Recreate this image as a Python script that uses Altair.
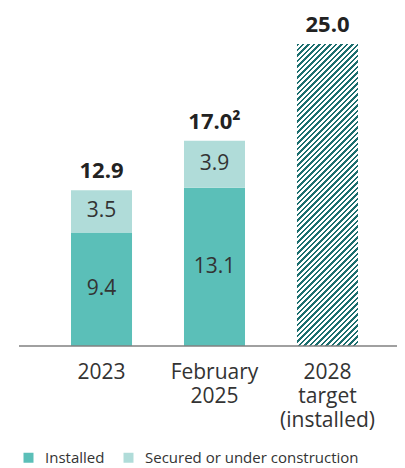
import altair as alt
import pandas as pd

# ---- data ----
categories = ["2023", "February 2025", "2028 target (installed)"]
installed = [9.4, 13.1]
secured = [3.5, 3.9]
target = [25.0]
totals = [12.9, 17.0, 25.0]
total_labels = ["12.9", "17.0\u00b2", "25.0"]
segments = ["Installed", "Secured or under construction"]
baseline_value = [0]

# ---- style ----
colors = ["#5bbfb8", "#b0dcd9"]
hatch_color = "#1b6e6e"
text_color = "#333333"
FONT = "Open Sans"
PLOT_W, PLOT_H = 378, 302

stack_rows = []
for i, (a, b) in enumerate(zip(installed, secured)):
    stack_rows.append({"cat": categories[i], "segment": segments[0], "value": a, "order": 0})
    stack_rows.append({"cat": categories[i], "segment": segments[1], "value": b, "order": 1})
stack_df = pd.DataFrame(stack_rows)
target_df = pd.DataFrame({"cat": categories[2:], "value": target})
total_df = pd.DataFrame({"cat": categories, "value": totals, "label": total_labels})
base_df = pd.DataFrame({"v": baseline_value})

# hatch pattern via a striped linear gradient (45 degree "/" stripes)
W, H = 61.0, 302.0          # approx bar size in px
L = W + H
period = 5.5
dark_frac = 0.45
k = L / (W * W + H * H)
stops = []
pos = 0.0
while pos < L:
    o0 = pos / L
    o1 = min((pos + dark_frac * period) / L, 1.0)
    o2 = min((pos + period) / L, 1.0)
    stops += [
        alt.GradientStop(offset=o0, color=hatch_color),
        alt.GradientStop(offset=o1, color=hatch_color),
        alt.GradientStop(offset=o1, color="#ffffff"),
        alt.GradientStop(offset=o2, color="#ffffff"),
    ]
    pos += period
hatch = alt.LinearGradient(gradient="linear", stops=stops, x1=0, y1=0, x2=k * W, y2=k * H)

x_enc = alt.X(
    "cat:N",
    sort=categories,
    scale=alt.Scale(domain=categories, range=[52, 339], paddingInner=0.46, paddingOuter=0),
    axis=alt.Axis(
        title=None, labelAngle=0, ticks=False, grid=False, domain=False,
        labelFontSize=21, labelColor=text_color, labelFont=FONT,
        labelPadding=15, labelLineHeight=24, labelBaseline="top",
        labelExpr="split(datum.label, ' ')",
    ),
)
y_scale = alt.Scale(domain=[0, 25], nice=False, zero=True)

bars = alt.Chart(stack_df).mark_bar().encode(
    x=x_enc,
    y=alt.Y("value:Q", scale=y_scale, axis=None, stack="zero"),
    color=alt.Color(
        "segment:N",
        scale=alt.Scale(domain=segments, range=colors),
        legend=alt.Legend(
            orient="none", legendX=2, legendY=406, direction="horizontal",
            title=None, symbolType="square", symbolSize=100, symbolStrokeWidth=0,
            labelFontSize=15, labelColor=text_color, labelFont=FONT, labelLimit=400,
            labelOffset=9, columnPadding=16, padding=0,
        ),
    ),
    order=alt.Order("order:Q", sort="ascending"),
)

seg_text = alt.Chart(stack_df).transform_stack(
    stack="value", as_=["v0", "v1"], groupby=["cat"],
    sort=[alt.SortField("order", "ascending")],
).transform_calculate(mid="(datum.v0 + datum.v1) / 2").mark_text(
    fontSize=21, color=text_color, font=FONT, baseline="middle"
).encode(
    x=x_enc,
    y=alt.Y("mid:Q", scale=y_scale, axis=None),
    text=alt.Text("value:Q", format=".1f"),
)

target_bar = alt.Chart(target_df).mark_bar(fill=hatch).encode(
    x=x_enc,
    y=alt.Y("value:Q", scale=y_scale, axis=None),
)

total_text = alt.Chart(total_df).mark_text(
    fontSize=22, fontWeight="bold", color="#222222", font=FONT, baseline="middle", dy=-19
).encode(
    x=x_enc,
    y=alt.Y("value:Q", scale=y_scale, axis=None),
    text="label:N",
)

baseline = alt.Chart(base_df).mark_rule(color="#808080", strokeWidth=1.5).encode(
    y=alt.Y("v:Q", scale=y_scale, axis=None),
    x=alt.value(0),
    x2=alt.value(PLOT_W),
)

chart = alt.layer(bars, target_bar, seg_text, total_text, baseline).properties(
    width=PLOT_W, height=PLOT_H,
    autosize=alt.AutoSizeParams(type="none"),
    padding={"left": 11, "top": 36, "right": 0, "bottom": 120},
).configure(font=FONT).configure_view(stroke=None)

chart.save("out.html", embed_options={"renderer": "svg", "actions": False})
